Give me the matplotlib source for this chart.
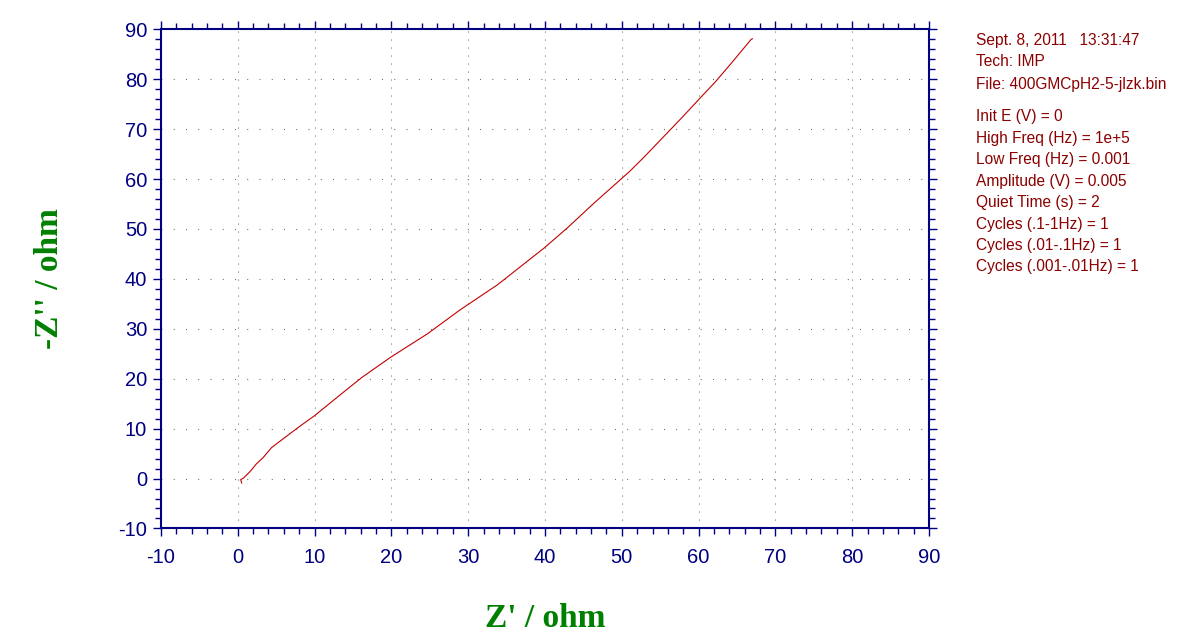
import matplotlib
matplotlib.use("Agg")
import matplotlib.pyplot as plt
from matplotlib import font_manager
from matplotlib.ticker import MultipleLocator

# Nyquist data
z_real = [0.51, 0.38, 0.72, 1.6, 2.4, 3.3, 4.4, 6.8, 8.1, 10.0, 12.0, 14.0, 16.2,
          19.9, 24.7, 28.95, 33.8, 39.9, 42.9, 46.4, 51.0, 52.9, 57.7, 60.0, 62.2,
          64.2, 66.8, 67.0]
z_imag = [-0.9, -0.2, 0.06, 1.4, 2.9, 4.2, 6.2, 9.0, 10.5, 12.6, 15.1, 17.6, 20.3,
          24.3, 29.0, 33.8, 38.8, 46.2, 50.2, 55.2, 61.5, 64.4, 72.1, 75.9, 79.5,
          83.1, 87.9, 88.1]

x_lim = (-10, 90)
y_lim = (-10, 90)

info_header = ["Sept. 8, 2011   13:31:47", "Tech: IMP", "File: 400GMCpH2-5-jlzk.bin"]
info_params = ["Init E (V) = 0", "High Freq (Hz) = 1e+5", "Low Freq (Hz) = 0.001",
               "Amplitude (V) = 0.005", "Quiet Time (s) = 2", "Cycles (.1-1Hz) = 1",
               "Cycles (.01-.1Hz) = 1", "Cycles (.001-.01Hz) = 1"]

navy = "#000080"
green = "#008000"
darkred = "#8b0000"

plt.rcParams["axes.unicode_minus"] = False

installed = {f.name for f in font_manager.fontManager.ttflist}
if "Liberation Sans Narrow" in installed:
    tick_font, tick_size = "Liberation Sans Narrow", 16
else:
    tick_font, tick_size = "Liberation Sans", 14.5

fig = plt.figure(figsize=(12.04, 6.44), dpi=100)
ax = fig.add_axes([0.1337, 0.1794, 0.6379, 0.7751])

ax.plot(z_real, z_imag, color="#c00000", linewidth=0.8)

ax.set_xlim(*x_lim)
ax.set_ylim(*y_lim)
ax.xaxis.set_major_locator(MultipleLocator(10))
ax.yaxis.set_major_locator(MultipleLocator(10))
ax.xaxis.set_minor_locator(MultipleLocator(2))
ax.yaxis.set_minor_locator(MultipleLocator(2))

for s in ax.spines.values():
    s.set_color(navy)
    s.set_linewidth(1.5)

ax.tick_params(which="both", direction="out", colors=navy, top=True, right=True,
               labeltop=False, labelright=False)
ax.tick_params(which="major", length=6, width=1.0)
ax.tick_params(which="minor", length=4, width=1.0)
ax.tick_params(axis="x", which="major", pad=8)
ax.tick_params(axis="y", which="major", pad=4)
for lab in ax.get_xticklabels() + ax.get_yticklabels():
    lab.set_fontfamily(tick_font)
    lab.set_fontsize(tick_size)
    lab.set_color(navy)

# dotted grid, one dot per minor step
ax.xaxis.grid(True, which="major", color="#5e5e30", linewidth=0.8,
              linestyle=(0, (0.8, 7.2 - 0.8)))
ax.yaxis.grid(True, which="major", color="#5e5e30", linewidth=0.8,
              linestyle=(0, (0.8, 11.03 - 0.8)))

ax.set_xlabel("Z' / ohm", family="Liberation Serif", fontweight="bold",
              fontsize=24, color=green, labelpad=26)
ax.set_ylabel("-Z'' / ohm", family="Liberation Serif", fontweight="bold",
              fontsize=24, color=green, labelpad=38)

# info panel on the right
y = 40
for line in info_header:
    fig.text(976 / 1204, 1 - y / 644, line, fontsize=11.2, color=darkred,
             family="Liberation Sans", va="center", ha="left")
    y += 22
y = 117
for line in info_params:
    fig.text(976 / 1204, 1 - y / 644, line, fontsize=11.2, color=darkred,
             family="Liberation Sans", va="center", ha="left")
    y += 21.4

fig.savefig("out.png", dpi=100)
